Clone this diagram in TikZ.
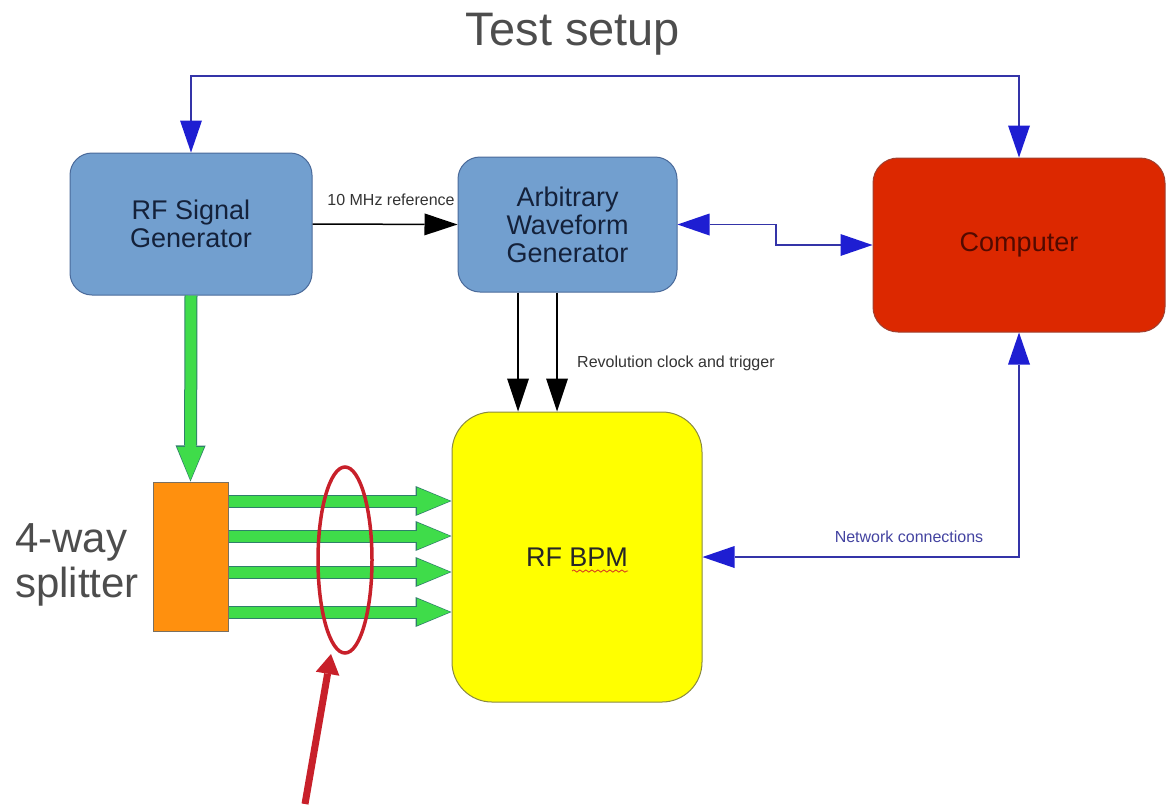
\documentclass[tikz,border=0pt]{standalone}
\usepackage{fontspec}
\setmainfont{Liberation Sans}
\usetikzlibrary{arrows.meta,shapes.geometric,decorations.pathmorphing}

\definecolor{boxblue}{HTML}{729FCF}
\definecolor{boxblueedge}{HTML}{4A6A9A}
\definecolor{boxtext}{HTML}{14213A}
\definecolor{compred}{HTML}{DC2800}
\definecolor{compedge}{HTML}{A04030}
\definecolor{comptext}{HTML}{520A00}
\definecolor{bpmyellow}{HTML}{FFFF00}
\definecolor{bpmedge}{HTML}{8A8A40}
\definecolor{splitorange}{HTML}{FF900E}
\definecolor{splitedge}{HTML}{7A7060}
\definecolor{sgreen}{HTML}{3FDC4A}
\definecolor{sgreenedge}{HTML}{2F7F6A}
\definecolor{busblue}{HTML}{3434A8}
\definecolor{busheads}{HTML}{1E1ED2}
\definecolor{labelgray}{HTML}{4D4D4D}
\definecolor{smallgray}{HTML}{333333}
\definecolor{markred}{HTML}{C8202A}

\tikzset{
  block/.style={draw, line width=1pt, rounded corners=#1, inner sep=0pt,
    align=center, font=\fontsize{27}{28}\selectfont},
  block/.default=22pt,
  smalllabel/.style={font=\fontsize{16}{18}\selectfont, text=smallgray, inner sep=0pt},
  busline/.style={draw=busblue, line width=1.4pt},
  busboth/.style={arrows={Triangle[length=32pt,width=22pt,line width=0pt,color=busheads]-Triangle[length=32pt,width=22pt,line width=0pt,color=busheads]}},
  clockline/.style={draw=black, line width=1.5pt,
    arrows={-Triangle[length=33pt,width=22pt,line width=0pt]}},
  fatedge/.style={draw=sgreenedge, line width=13pt,
    arrows={-Triangle[length=36pt,width=30pt,line width=0pt]}},
  fatfill/.style={draw=sgreen, line width=11pt, shorten >=1.5pt,
    arrows={-Triangle[length=33pt,width=27pt,line width=0pt]}},
}

\begin{document}
\begin{tikzpicture}[x=1pt,y=-1pt]
\useasboundingbox (0,0) rectangle (1166,804);

% title and side label
\node[font=\fontsize{47}{50}\selectfont, text=labelgray, anchor=base] (title) at (573,45) {Test setup};
\node[anchor=north west, align=left, font=\fontsize{42}{45}\selectfont, text=labelgray, inner sep=0pt]
  (splitlbl) at (15,523) {4-way\\splitter};

% instruments
\node[block, fill=boxblue, draw=boxblueedge, text=boxtext, minimum width=242pt, minimum height=142pt]
  (rfsg) at (191,224) {RF Signal\\Generator};
\node[block, fill=boxblue, draw=boxblueedge, text=boxtext, minimum width=219pt, minimum height=135pt]
  (awg) at (567.5,224.5) {Arbitrary\\Waveform\\Generator};
\node[block=25pt, fill=compred, draw=compedge, text=comptext, minimum width=292pt, minimum height=174pt]
  (comp) at (1019,245) {Computer};
\node[block=40pt, fill=bpmyellow, draw=bpmedge, minimum width=250pt, minimum height=290pt]
  (bpm) at (577,557) {};
\node[draw=splitedge, line width=1pt, fill=splitorange, minimum width=75pt, minimum height=149pt, inner sep=0pt]
  (split) at (190.5,556.5) {};

% BPM caption with spell-check underline
\node[font=\fontsize{27}{28}\selectfont, text=black!85, anchor=base, inner sep=0pt] (bpmtxt) at (577,566) {RF BPM};
\coordinate (wavyA) at (572,571);
\coordinate (wavyB) at (628,571);
\draw[decorate, decoration={snake, amplitude=1.1pt, segment length=6pt}, draw=markred!80!orange, line width=0.8pt]
  (wavyA) -- (wavyB);

% control bus between the computer and the instruments
\coordinate (topbus) at (0,76);
\draw[busline, busboth] (rfsg.north) -- (rfsg.north |- topbus) -| (comp.north);
\coordinate (jog) at (776,0);
\draw[busline, busboth] (awg.east) -- (awg.east -| jog) |- (comp.west);
\draw[busline, busboth] (comp.south) |- (bpm.east);
\node[font=\fontsize{16}{18}\selectfont, text=busblue!80!gray, inner sep=0pt] (netlbl) at (909,537) {Network connections};

% reference and clock signals
\draw[clockline] (rfsg.east) -- (awg.west);
\node[smalllabel] (reflbl) at (391,200) {10 MHz reference};
\coordinate (clkA) at (518,0);
\coordinate (clkB) at (557,0);
\draw[clockline] (awg.south -| clkA) -- (bpm.north -| clkA);
\draw[clockline] (awg.south -| clkB) -- (bpm.north -| clkB);
\node[smalllabel, anchor=west] (clklbl) at (577,363) {Revolution clock and trigger};

% RF signal path
\draw[fatedge] (rfsg.south) -- (split.north);
\draw[fatfill] (rfsg.south) -- (split.north);
\foreach \yy [count=\i] in {501,536,572,612} {
  \coordinate (ch\i) at (0,\yy);
  \draw[fatedge] (split.east |- ch\i) -- (bpm.west |- ch\i);
  \draw[fatfill] (split.east |- ch\i) -- (bpm.west |- ch\i);
}

% highlight of the four channels
\node[draw=markred, line width=3.5pt, ellipse, minimum width=54pt, minimum height=186pt, inner sep=0pt]
  (ring) at (345,560) {};
\coordinate (pointer) at (305,804);
\coordinate (pointertip) at (331,654);
\draw[draw=markred, line width=7pt, arrows={-Triangle[length=20pt,width=24pt,line width=0pt]}]
  (pointer) -- (pointertip);
\end{tikzpicture}
\end{document}
